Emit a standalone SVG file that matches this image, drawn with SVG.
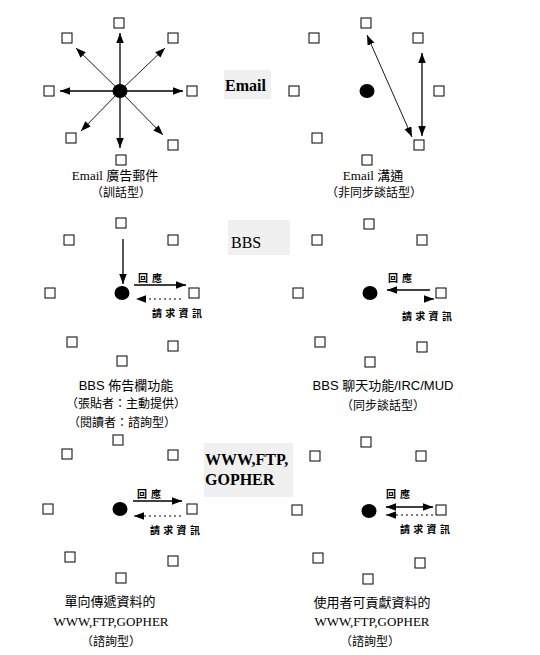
<svg xmlns="http://www.w3.org/2000/svg" width="540" height="655" viewBox="0 0 540 655">
<style>
.sq{fill:#fff;stroke:#000;stroke-width:1}
.dot{fill:#000}
.ln{stroke:#000;stroke-width:1.3;fill:none;marker-end:url(#ah)}
.thin{stroke:#000;stroke-width:0.9;fill:none;marker-end:url(#ah)}
.dbl{marker-start:url(#ah)}
.dash{stroke:#000;stroke-width:1;stroke-dasharray:2,3;fill:none;marker-end:url(#ah)}
.box{fill:#f0f0f0}
.title{font-family:"Liberation Serif","Noto Sans CJK TC",serif;font-size:16px;fill:#000}
.lab{font-family:"Liberation Serif","Noto Sans CJK TC",serif;font-size:13px;fill:#000;text-anchor:middle}
.labs{font-family:"Liberation Sans","Noto Sans CJK TC",sans-serif;font-size:13px;fill:#000;text-anchor:middle}
.par{font-family:"Noto Sans CJK TC",sans-serif;font-size:12px;fill:#000;text-anchor:middle}
.tiny{font-family:"Noto Sans CJK TC",sans-serif;font-size:10px;font-weight:bold;fill:#000}
</style>
<defs>
<marker id="ah" markerUnits="userSpaceOnUse" markerWidth="11" markerHeight="8" refX="10" refY="3.75" orient="auto-start-reverse" viewBox="0 0 11 8">
<path d="M0,0 L10,3.75 L0,7.5 z" fill="#000"/>
</marker>
</defs>

<g id="connectors">
<!-- panel A -->
<line class="ln" x1="120" y1="91" x2="120" y2="33"/>
<line class="ln" x1="120" y1="91" x2="120" y2="148"/>
<line class="ln" x1="120" y1="91" x2="60" y2="91"/>
<line class="ln" x1="120" y1="91" x2="183" y2="91"/>
<line class="thin" x1="120" y1="91" x2="76" y2="48"/>
<line class="thin" x1="120" y1="91" x2="165" y2="48"/>
<line class="thin" x1="120" y1="91" x2="81" y2="131"/>
<line class="thin" x1="120" y1="91" x2="163" y2="135"/>
<!-- panel B -->
<line class="thin dbl" x1="367" y1="35" x2="412" y2="137"/>
<line class="ln dbl" x1="422" y1="53" x2="422" y2="136"/>
<!-- panel C -->
<line class="ln" x1="123" y1="239" x2="123" y2="284"/>
<line class="ln" x1="134" y1="285" x2="186" y2="285"/>
<line class="dash" x1="181" y1="299" x2="136" y2="299"/>
<!-- panel D -->
<line class="ln" x1="430" y1="290" x2="387" y2="290"/>
<line class="ln" x1="424" y1="299" x2="434" y2="299"/>
<!-- panel E -->
<line class="ln" x1="133" y1="501" x2="182" y2="501"/>
<line class="dash" x1="181" y1="516" x2="134" y2="516"/>
<!-- panel F -->
<line class="ln dbl" x1="386" y1="507" x2="433" y2="507"/>
<line class="dash" x1="433" y1="515" x2="386" y2="515"/>
</g>

<g id="email-panel-broadcast">
<rect class="sq" x="114" y="18" width="10" height="10"/>
<rect class="sq" x="62" y="33" width="10" height="10"/>
<rect class="sq" x="168" y="33" width="10" height="10"/>
<rect class="sq" x="44" y="86" width="10" height="10"/>
<rect class="sq" x="187" y="86" width="10" height="10"/>
<rect class="sq" x="66" y="133" width="10" height="10"/>
<rect class="sq" x="168" y="140" width="10" height="10"/>
<rect class="sq" x="116" y="155" width="10" height="10"/>
<ellipse class="dot" cx="120" cy="91" rx="7.5" ry="7"/>
<text class="lab" x="115" y="180">Email 廣告郵件</text>
<text class="par" x="121" y="197">（訓話型）</text>
</g>

<g id="email-label">
<rect class="box" x="224" y="70" width="47" height="29"/>
<text class="title" x="225" y="91" font-weight="bold">Email</text>
</g>

<g id="email-panel-async">
<rect class="sq" x="361" y="18" width="10" height="10"/>
<rect class="sq" x="309" y="33" width="10" height="10"/>
<rect class="sq" x="413" y="33" width="10" height="10"/>
<rect class="sq" x="289" y="86" width="10" height="10"/>
<rect class="sq" x="434" y="86" width="10" height="10"/>
<rect class="sq" x="312" y="133" width="10" height="10"/>
<rect class="sq" x="414" y="140" width="10" height="10"/>
<rect class="sq" x="362" y="155" width="10" height="10"/>
<ellipse class="dot" cx="367" cy="91" rx="7.5" ry="7"/>
<text class="lab" x="373" y="180">Email 溝通</text>
<text class="par" x="374" y="197">（非同步談話型）</text>
</g>

<g id="bbs-panel-board">
<rect class="sq" x="116" y="218" width="10" height="10"/>
<rect class="sq" x="64" y="235" width="10" height="10"/>
<rect class="sq" x="168" y="235" width="10" height="10"/>
<rect class="sq" x="45" y="288" width="10" height="10"/>
<rect class="sq" x="189" y="288" width="10" height="10"/>
<rect class="sq" x="67" y="337" width="10" height="10"/>
<rect class="sq" x="168" y="341" width="10" height="10"/>
<rect class="sq" x="117" y="356" width="10" height="10"/>
<ellipse class="dot" cx="122" cy="293" rx="7.5" ry="7"/>
<text class="tiny" x="138" y="282" letter-spacing="4">回應</text>
<text class="tiny" x="152" y="317" letter-spacing="3.3">請求資訊</text>
<text class="labs" x="126" y="390">BBS 佈告欄功能</text>
<text class="par" x="126" y="408">（張貼者：主動提供）</text>
<text class="par" x="122" y="427">（閱讀者：諮詢型）</text>
</g>

<g id="bbs-label">
<rect class="box" x="228" y="220" width="62" height="35"/>
<text class="title" x="231" y="248">BBS</text>
</g>

<g id="bbs-panel-chat">
<rect class="sq" x="364" y="219" width="10" height="10"/>
<rect class="sq" x="312" y="235" width="10" height="10"/>
<rect class="sq" x="417" y="235" width="10" height="10"/>
<rect class="sq" x="293" y="288" width="10" height="10"/>
<rect class="sq" x="436" y="288" width="10" height="10"/>
<rect class="sq" x="315" y="337" width="10" height="10"/>
<rect class="sq" x="417" y="342" width="10" height="10"/>
<rect class="sq" x="365" y="357" width="10" height="10"/>
<ellipse class="dot" cx="370" cy="293" rx="7.5" ry="7"/>
<text class="tiny" x="388" y="282" letter-spacing="4">回應</text>
<text class="tiny" x="402" y="320" letter-spacing="3.3">請求資訊</text>
<text class="labs" x="383" y="390">BBS 聊天功能/IRC/MUD</text>
<text class="par" x="383" y="410">（同步談話型）</text>
</g>

<g id="www-label">
<rect class="box" x="204" y="443" width="89" height="54"/>
<text class="title" x="205" y="465" font-weight="bold">WWW,FTP,</text>
<text class="title" x="205" y="485" font-weight="bold">GOPHER</text>
</g>

<g id="www-panel-oneway">
<rect class="sq" x="113" y="435" width="10" height="10"/>
<rect class="sq" x="62" y="449" width="10" height="10"/>
<rect class="sq" x="168" y="450" width="10" height="10"/>
<rect class="sq" x="43" y="504" width="10" height="10"/>
<rect class="sq" x="187" y="504" width="10" height="10"/>
<rect class="sq" x="65" y="552" width="10" height="10"/>
<rect class="sq" x="168" y="556" width="10" height="10"/>
<rect class="sq" x="116" y="573" width="10" height="10"/>
<ellipse class="dot" cx="120" cy="509" rx="7.5" ry="7"/>
<text class="tiny" x="137" y="498" letter-spacing="4">回應</text>
<text class="tiny" x="150" y="534" letter-spacing="3.3">請求資訊</text>
<text class="lab" x="110" y="606">單向傳遞資料的</text>
<text class="lab" x="111" y="626">WWW,FTP,GOPHER</text>
<text class="par" x="111" y="646">（諮詢型）</text>
</g>

<g id="www-panel-contrib">
<rect class="sq" x="361" y="437" width="10" height="10"/>
<rect class="sq" x="310" y="451" width="10" height="10"/>
<rect class="sq" x="416" y="451" width="10" height="10"/>
<rect class="sq" x="292" y="505" width="10" height="10"/>
<rect class="sq" x="436" y="505" width="10" height="10"/>
<rect class="sq" x="313" y="553" width="10" height="10"/>
<rect class="sq" x="415" y="558" width="10" height="10"/>
<rect class="sq" x="363" y="574" width="10" height="10"/>
<ellipse class="dot" cx="369" cy="511" rx="7.5" ry="7"/>
<text class="tiny" x="386" y="498" letter-spacing="4">回應</text>
<text class="tiny" x="400" y="533" letter-spacing="3.3">請求資訊</text>
<text class="lab" x="372" y="607">使用者可貢獻資料的</text>
<text class="lab" x="372" y="626">WWW,FTP,GOPHER</text>
<text class="par" x="370" y="646">（諮詢型）</text>
</g>
</svg>
